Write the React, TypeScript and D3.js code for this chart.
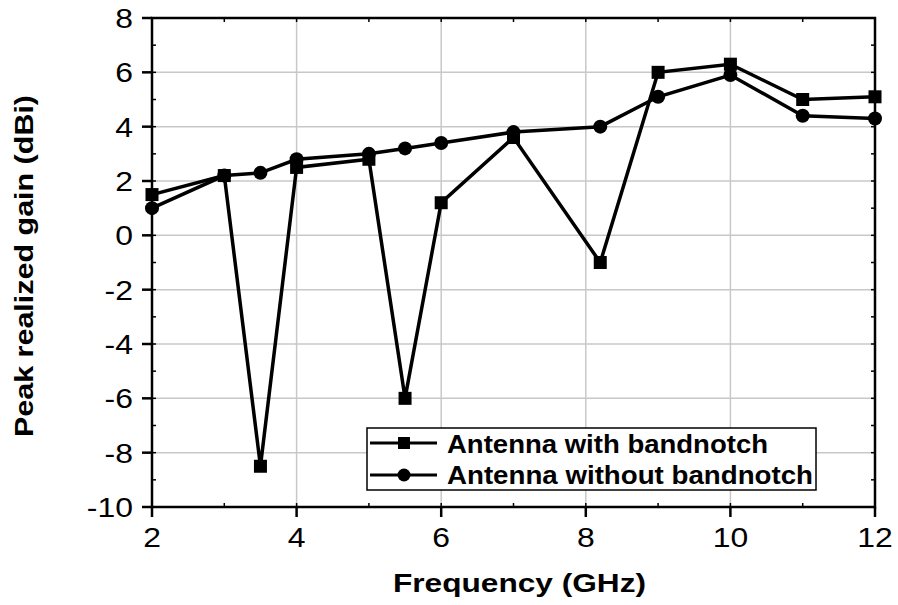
import React from "react";
import * as d3 from "d3";

const freqs = [2, 3, 3.5, 4, 5, 5.5, 6, 7, 8.2, 9, 10, 11, 12];
const withNotch = [1.5, 2.2, -8.5, 2.5, 2.8, -6, 1.2, 3.6, -1, 6, 6.3, 5, 5.1];
const withoutNotch = [1.0, 2.2, 2.3, 2.8, 3.0, 3.2, 3.4, 3.8, 4.0, 5.1, 5.9, 4.4, 4.3];
const xTicks = [2, 4, 6, 8, 10, 12];
const yTicks = [-10, -8, -6, -4, -2, 0, 2, 4, 6, 8];
const seriesNames = ["Antenna with bandnotch", "Antenna without bandnotch"];

const W = 898, H = 605;
const L = 152, R = 875, T = 18, B = 507;

function SText(props: { x: number; y: number; sx?: number; size: number; anchor?: string; bold?: boolean; children: any }) {
  const { x, y, sx = 1.14, size, anchor = "start", bold = false, children } = props;
  return (
    <text transform={`translate(${x},${y}) scale(${sx},1)`} fontSize={size} textAnchor={anchor}
      fontWeight={bold ? "bold" : "normal"} fill="#000">{children}</text>
  );
}

export default function App() {
  const x = d3.scaleLinear().domain([2, 12]).range([L, R]);
  const y = d3.scaleLinear().domain([-10, 8]).range([B, T]);
  const line = d3.line<[number, number]>().x(d => x(d[0])).y(d => y(d[1]));
  const s1 = freqs.map((f, i) => [f, withNotch[i]] as [number, number]);
  const s2 = freqs.map((f, i) => [f, withoutNotch[i]] as [number, number]);
  const minorX = d3.range(2, 12.01, 1);
  const minorY = d3.range(-10, 8.01, 1);
  const font = "'Liberation Sans', Arial, sans-serif";
  return (
    <svg width={W} height={H} style={{ position: "absolute", left: 0, top: 0, background: "#fff" }} fontFamily={font}>
      {/* grid */}
      {xTicks.slice(1, -1).map(t => (
        <line key={"gx" + t} x1={x(t)} x2={x(t)} y1={T} y2={B} stroke="#c8c8c8" strokeWidth={1.5} />
      ))}
      {yTicks.slice(1, -1).map(t => (
        <line key={"gy" + t} x1={L} x2={R} y1={y(t)} y2={y(t)} stroke="#c8c8c8" strokeWidth={1.5} />
      ))}
      {/* frame */}
      <rect x={L} y={T} width={R - L} height={B - T} fill="none" stroke="#000" strokeWidth={2.5} />
      {/* minor ticks inside */}
      {minorX.map(t => (
        <g key={"mx" + t}>
          <line x1={x(t)} x2={x(t)} y1={B} y2={B - 4} stroke="#000" strokeWidth={1.5} />
          <line x1={x(t)} x2={x(t)} y1={T} y2={T + 4} stroke="#000" strokeWidth={1.5} />
        </g>
      ))}
      {minorY.map(t => (
        <g key={"my" + t}>
          <line x1={L} x2={L + 4} y1={y(t)} y2={y(t)} stroke="#000" strokeWidth={1.5} />
          <line x1={R} x2={R - 4} y1={y(t)} y2={y(t)} stroke="#000" strokeWidth={1.5} />
        </g>
      ))}
      {/* major ticks outside */}
      {xTicks.map(t => (
        <g key={"tx" + t}>
          <line x1={x(t)} x2={x(t)} y1={B} y2={B + 10} stroke="#000" strokeWidth={2.5} />
          <SText x={x(t)} y={B + 40} size={28} anchor="middle">{t}</SText>
        </g>
      ))}
      {yTicks.map(t => (
        <g key={"ty" + t}>
          <line x1={L} x2={L - 10} y1={y(t)} y2={y(t)} stroke="#000" strokeWidth={2.5} />
          <SText x={L - 19} y={y(t) + 10} size={28} anchor="end">{t}</SText>
        </g>
      ))}
      {/* series */}
      <path d={line(s1) || ""} fill="none" stroke="#000" strokeWidth={3.5} />
      <path d={line(s2) || ""} fill="none" stroke="#000" strokeWidth={3.5} />
      {s1.map((d, i) => (
        <rect key={"sq" + i} x={x(d[0]) - 6.5} y={y(d[1]) - 6.5} width={13} height={13} fill="#000" />
      ))}
      {s2.map((d, i) => (
        <circle key={"ci" + i} cx={x(d[0])} cy={y(d[1])} r={7} fill="#000" />
      ))}
      {/* legend */}
      <rect x={367} y={428} width={449} height={62} fill="#fff" stroke="#000" strokeWidth={1.5} />
      <line x1={370} x2={437} y1={443} y2={443} stroke="#000" strokeWidth={3} />
      <rect x={398} y={437} width={12} height={12} fill="#000" />
      <text x={447} y={453} fontSize={25} fontWeight="bold" fill="#000" textLength={321} lengthAdjust="spacingAndGlyphs">{seriesNames[0]}</text>
      <line x1={370} x2={437} y1={475} y2={475} stroke="#000" strokeWidth={3} />
      <circle cx={404} cy={475} r={6.5} fill="#000" />
      <text x={447} y={484} fontSize={25} fontWeight="bold" fill="#000" textLength={366} lengthAdjust="spacingAndGlyphs">{seriesNames[1]}</text>
      {/* axis titles */}
      <text x={393} y={592} fontSize={25} fontWeight="bold" fill="#000" textLength={253} lengthAdjust="spacingAndGlyphs">Frequency (GHz)</text>
      <text transform={`translate(33, 437) rotate(-90)`} fontSize={26} fontWeight="bold" fill="#000" textLength={342} lengthAdjust="spacingAndGlyphs">Peak realized gain (dBi)</text>
    </svg>
  );
}
